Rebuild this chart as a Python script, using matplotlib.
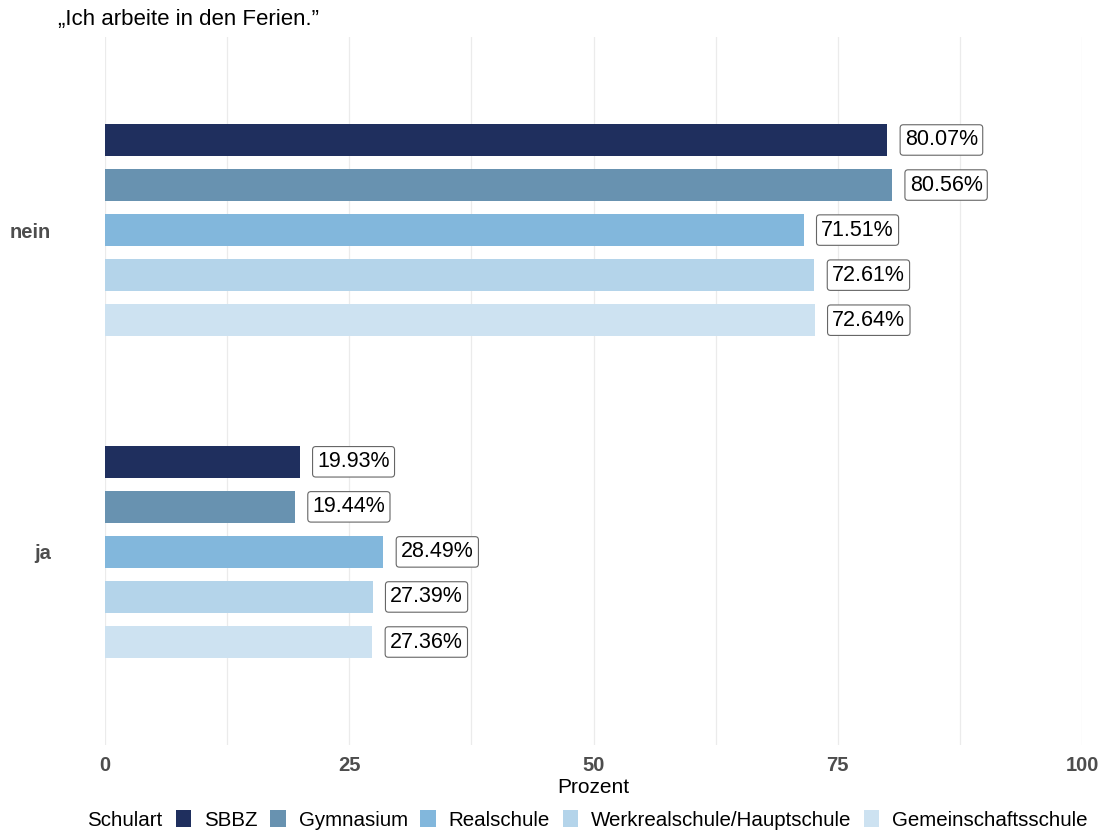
import matplotlib.pyplot as plt
from matplotlib.patches import Patch

plt.rcParams['font.family'] = ['Liberation Sans', 'DejaVu Sans']

# ---------------------- data ----------------------
answers = ["ja", "nein"]
schularten = ["SBBZ", "Gymnasium", "Realschule",
              "Werkrealschule/Hauptschule", "Gemeinschaftsschule"]
ja_values = [19.93, 19.44, 28.49, 27.39, 27.36]
nein_values = [80.07, 80.56, 71.51, 72.61, 72.64]
colors = ["#1f2f5e", "#6892b0", "#82b7dc", "#b4d4ea", "#cde2f1"]
x_ticks = [0, 25, 50, 75, 100]

fig = plt.figure(figsize=(11.04, 8.32), dpi=100)
ax = fig.add_axes([105 / 1104, 87 / 832, 977 / 1104, 708 / 832])

# dodge offsets, first school on top
slot = 0.14
offsets = [2 * slot, slot, 0, -slot, -2 * slot]

for pos, vals in zip([1, 2], [ja_values, nein_values]):
    for i, v in enumerate(vals):
        y = pos + offsets[i]
        ax.barh(y, v, height=0.1, color=colors[i], zorder=2)
        ax.text(v + 1.8, y, f"{v:.2f}%", fontsize=15.5, va='center', ha='left',
                zorder=3,
                bbox=dict(boxstyle='round,pad=0.22,rounding_size=0.15',
                          fc='white', ec='#666666', lw=0.8))

ax.set_xlim(0, 100)
ax.set_ylim(0.4, 2.6)
ax.set_xticks(x_ticks)
ax.set_xticks([12.5, 37.5, 62.5, 87.5], minor=True)
ax.set_yticks([1, 2])
ax.set_yticklabels(answers)
ax.tick_params(axis='both', which='both', length=0)
ax.tick_params(axis='x', pad=8)
ax.tick_params(axis='y', pad=39)
for lab in ax.get_xticklabels() + ax.get_yticklabels():
    lab.set_fontweight('bold')
    lab.set_color('#4d4d4d')
    lab.set_fontsize(14.5)
ax.grid(axis='x', which='both', color='#ebebeb', lw=0.9, zorder=0)
for s in ax.spines.values():
    s.set_visible(False)

ax.set_xlabel("Prozent", fontsize=15, labelpad=2)
fig.text(58 / 1104, 1 - 20 / 832, "„Ich arbeite in den Ferien.”", fontsize=16,
         va='center', ha='left')

# legend along the bottom
handles = [Patch(facecolor=c, edgecolor='none') for c in colors]
fig.text(87 / 1104, 1 - 820 / 832, "Schulart", fontsize=14.8, va='center', ha='left')
fig.legend(handles, schularten, loc='center left', ncol=5,
           bbox_to_anchor=(176 / 1104, 1 - 820 / 832), frameon=False,
           fontsize=14.8, handlelength=0.75, handleheight=0.9,
           handletextpad=0.62, columnspacing=0.62, borderaxespad=0, borderpad=0)

fig.savefig("out.png", dpi=100)
